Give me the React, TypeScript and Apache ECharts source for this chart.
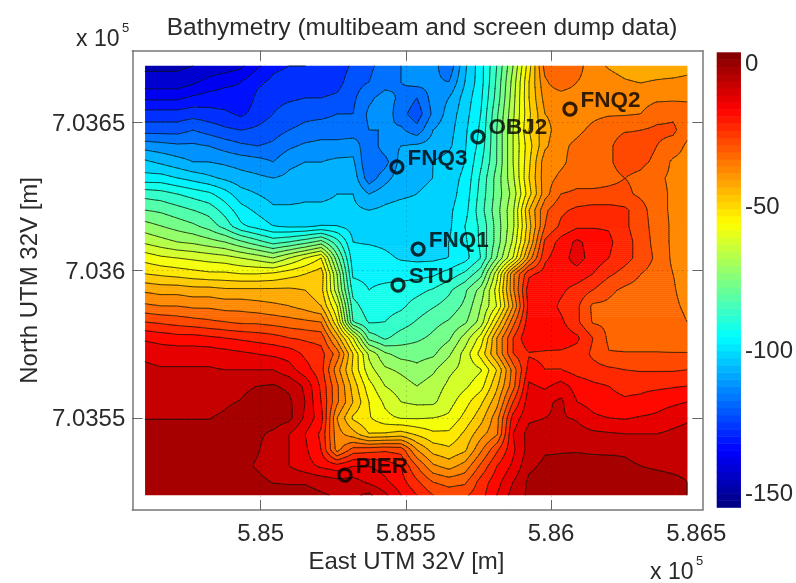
import React, { useEffect, useRef } from "react";
import * as echarts from "echarts";

const TITLE = "Bathymetry (multibeam and screen dump data)";
const FONT = "'Liberation Sans', Arial, sans-serif";
const INK = "#2a2a2a";

const eastings = [584602, 584657, 584712, 584767, 584822, 584877, 584932, 584987, 585043, 585098, 585153, 585208, 585263, 585318, 585373, 585428, 585483, 585538, 585593, 585648, 585703, 585758, 585813, 585869, 585924, 585979, 586034, 586089, 586144, 586199, 586254, 586309, 586364, 586420, 586468];
const northings = [7036692, 7036638, 7036584, 7036530, 7036475, 7036421, 7036367, 7036313, 7036259, 7036204, 7036150, 7036096, 7036042, 7035988, 7035933, 7035879, 7035825, 7035771, 7035717, 7035663, 7035608, 7035554, 7035500, 7035446, 7035392, 7035337, 7035283, 7035239];

const depths: number[][] = [
  [-146,-146,-146,-145,-144,-143,-141,-136,-131,-130,-130,-129,-128,-124,-121,-118,-115,-113,-113,-119,-106,-97,-85,-70,-52,-33,-30,-33,-38,-40.5,-42,-43,-43,-43,-42],
  [-143,-143,-143,-141,-138,-136,-135,-131,-129,-128,-128,-128,-127,-122,-120,-117,-115,-113,-114,-115,-105,-97,-84,-68,-50,-36,-31,-35,-37,-38,-39.5,-40.2,-39.5,-39,-38.5],
  [-136,-136,-136,-134,-133,-133,-134,-129,-127,-126,-125,-125,-124,-121,-116,-113,-116,-120,-113,-110,-103,-96,-83,-67,-50,-38,-38,-38,-37,-37,-37,-37,-36,-36,-36],
  [-128,-128,-128,-127,-128,-129,-131,-128,-125,-122,-121,-121,-120,-120,-114,-112,-118,-123,-114,-108,-102,-95,-81,-66,-51,-40,-38,-37,-36,-35.5,-35.5,-35,-32,-31,-32],
  [-122,-122,-122,-120,-122,-124,-125,-124,-122,-120,-119,-118,-118,-118,-115,-115,-114,-118,-110,-107,-101,-94,-80,-65,-50,-42,-37,-36,-34,-32,-30.5,-30,-29,-29,-33],
  [-112,-113,-114,-114,-115,-117,-119,-120,-119,-116,-114,-113,-113,-112,-119,-112,-110,-109,-108,-106,-100.5,-93,-80,-65,-52,-41,-36,-34,-32,-31,-27,-28,-30,-32,-36],
  [-104,-106,-108,-110,-110,-111,-112,-113,-115,-111,-110,-110,-109,-109,-120,-117,-108,-107,-105,-103,-100,-91,-80,-65,-51,-37,-36,-33,-32,-30.5,-28.5,-29,-31,-36,-37],
  [-98,-98,-100,-102,-104,-106,-108,-109,-110,-109,-108,-108,-108,-107,-118,-112,-107,-106,-105,-102,-99,-89,-78,-66,-50,-37,-34,-32,-32,-31,-30,-31,-34,-36,-38],
  [-87,-88,-90,-92,-94,-98,-103,-105,-107,-107,-106,-106,-105,-105,-110,-107,-106,-105,-104,-102,-98,-88,-78,-68,-52,-37,-30,-29,-29,-29,-29,-31,-33,-36,-38],
  [-80,-81,-83,-85,-87,-92,-98,-101,-104,-104,-104,-104,-104,-104,-105,-104,-103,-103,-102,-101,-97,-87,-77,-66,-45,-31,-26,-24,-23,-23,-24,-28,-33,-36,-38],
  [-73,-75,-77,-79,-82,-87,-94,-97,-100,-101,-101,-100,-100,-102,-102,-102,-102,-102,-102,-101,-95,-89,-78,-66,-47,-30,-24,-21,-20.5,-20.5,-24,-28,-32,-36,-38],
  [-66,-68,-70,-71,-73,-75,-79,-83,-87,-85,-82,-78,-88,-100,-100.5,-101,-102,-102,-101.5,-100,-96,-89,-78,-64,-45,-24,-18,-14,-17,-19,-23,-27,-32,-36,-38],
  [-57,-59,-60,-61,-62,-63,-65,-67,-70,-65,-60,-55,-78,-98,-97.5,-99,-100.5,-101,-101,-100,-97,-90,-75,-60,-38,-21,-17,-13,-17,-20,-23,-27,-31,-36,-38],
  [-50,-51,-52,-53,-54,-54,-55,-55,-54,-52,-50,-47,-70,-96,-96.5,-97,-97,-97,-96,-93,-89,-82,-62,-36,-21,-18,-17,-17,-20,-24,-27,-30,-32,-35,-37],
  [-41,-42,-42,-43,-43,-44,-44,-44,-44,-44,-45,-48,-68,-92,-95,-93.5,-92.5,-91.5,-89.5,-86,-81,-73,-58,-36,-17,-17,-19,-22,-25,-29,-31,-32,-33,-34.5,-37],
  [-34,-35,-35,-36,-36,-37,-37,-38,-39,-40,-42,-45,-60,-88,-93,-92,-91,-88,-85.5,-83,-79,-70,-60,-40,-18,-17,-21,-24,-31,-31,-32,-32,-33,-34,-36],
  [-25,-26,-27,-28,-29,-30,-31,-31,-32,-33,-34,-35,-54,-85,-90.5,-90,-87.5,-84.5,-81.5,-79.5,-76,-68,-50,-32,-17,-17,-19,-24,-30.5,-31,-32,-32,-32,-33,-35],
  [-16,-17,-18,-18,-19,-20,-21,-22,-23,-25,-26,-27,-42,-60,-82,-86,-82.5,-81,-79,-76,-68,-58,-40,-25,-15,-16,-17,-19,-25,-31,-32,-32,-32,-33,-33],
  [-11,-12,-12,-12,-12,-13,-14,-15,-16,-17,-21,-23,-32,-50,-66,-74,-77,-77,-76,-71,-63,-53,-40,-25,-20.5,-21,-21,-22,-26,-29.7,-29.7,-29.7,-29.7,-29.7,-29.7],
  [-9,-9.5,-9.5,-9.5,-9.5,-10,-10,-10,-10,-13,-18,-23,-38,-51,-63,-69,-71,-73.5,-71,-66,-63.5,-60.5,-50,-33,-18,-20,-20,-22,-23,-24,-25,-25.5,-25.5,-25.5,-25],
  [-8,-8,-7.5,-7.5,-7,-7,-6,-5,-4.5,-6,-11,-21,-34,-47,-58,-65,-67.5,-70,-67.5,-64,-61,-57,-46,-32,-14,-16,-13,-17,-19,-20,-21,-21,-21,-20.5,-20],
  [-7,-7,-6.5,-6.5,-6,-5.5,-4.8,-3,-2.5,-4,-10,-20,-34,-45,-55,-61,-65,-66,-66,-62,-57,-51,-42,-25,-12,-11,-9,-15,-17,-19,-19.5,-19,-17,-16,-15],
  [-5.1,-5.1,-5.1,-5.1,-5.1,-4.5,-3,-2.5,-2,-3.5,-11,-18,-40,-51,-54.5,-58.5,-60.5,-60.5,-60,-59,-53.5,-47,-37,-18,-11,-10,-9.5,-10.5,-14,-15,-15.5,-14.5,-14,-12,-11],
  [-4,-4,-4,-4,-4,-4,-4,-4,-6,-10,-15,-21,-38,-43,-50,-49.5,-48,-51,-54,-54,-49,-42,-36,-15,-8,-7.5,-7.5,-8,-9,-9.5,-10,-10,-10,-9,-8],
  [-3,-3,-3,-3,-3,-3,-3.5,-4.5,-7.5,-10,-14,-20,-37,-28,-27,-26,-27,-40,-47,-49,-46,-36,-26,-16,-8,-5.5,-5.3,-5.2,-5.4,-5.5,-5.4,-6,-6.5,-7,-7],
  [-3,-3,-3,-3,-3,-3,-3.5,-5.5,-8,-10,-13,-16,-18,-15,-15,-17,-20,-30,-39,-42,-38,-29,-20,-14,-6,-4,-4,-4,-4,-4,-4.5,-5,-5.5,-6,-6],
  [-3,-3,-3,-3,-3,-3,-3,-3.5,-5.3,-5.5,-5.4,-6.5,-8,-8,-11,-14,-18,-24,-30,-32,-31,-23,-17,-10,-4,-3,-3,-3,-3,-3,-3,-3.5,-3.5,-4,-5],
  [-2,-2,-2,-2,-2,-2,-2,-2,-2.5,-3,-3.5,-4.5,-5.5,-6,-4,-9,-15,-20,-25,-27,-26,-22,-15,-8,-4,-2,-2,-2,-2,-2,-2,-3,-3,-4,-5],
];

const stationNames = ["FNQ2", "OBJ2", "FNQ3", "FNQ1", "STU", "PIER"];
const stationEast = [586065, 585748, 585469, 585542, 585473, 585290];
const stationNorth = [7036546, 7036452, 7036350, 7036072, 7035950, 7035306];

const eastTicks = [585000, 585500, 586000];
const eastLabels = [585000, 585500, 586000, 586500];
const northTicks = [7035500, 7036000, 7036500];
const colorbarTicks = [0, -50, -100, -150];

const X_MIN = 584558, X_MAX = 586522, Y_MIN = 7035188, Y_MAX = 7036744;
const C_MIN = -155, C_MAX = 3.5;
const BAND = 5;
const FINE_E = 3.44 * 2;
const FINE_N = 3.39 * 2;

const clamp = (v: number) => Math.max(0, Math.min(1, v));
const jet = (t: number) => {
  const c = (x: number) => Math.round(255 * clamp(1.5 - Math.abs(4 * t - x)));
  return `rgb(${c(3)},${c(2)},${c(1)})`;
};
const colorOf = (v: number) => jet((v - C_MIN) / (C_MAX - C_MIN));
const bandColor = (v: number) => colorOf(Math.floor(v / BAND) * BAND + BAND / 2);

function sample(e: number, n: number) {
  let i = 0;
  while (i < eastings.length - 2 && e > eastings[i + 1]) i++;
  let j = 0;
  while (j < northings.length - 2 && n < northings[j + 1]) j++;
  const u = clamp((e - eastings[i]) / (eastings[i + 1] - eastings[i]));
  const w = clamp((northings[j] - n) / (northings[j] - northings[j + 1]));
  return (
    depths[j][i] * (1 - u) * (1 - w) + depths[j][i + 1] * u * (1 - w) +
    depths[j + 1][i] * (1 - u) * w + depths[j + 1][i + 1] * u * w
  );
}

const E0 = eastings[0], E1 = eastings[eastings.length - 1];
const N0 = northings[0], N1 = northings[northings.length - 1];
const nx = Math.round((E1 - E0) / FINE_E);
const ny = Math.round((N0 - N1) / FINE_N);
const ex = (i: number) => E0 + ((E1 - E0) * i) / nx;
const ey = (j: number) => N0 - ((N0 - N1) * j) / ny;

type Run = { e0: number; e1: number; n0: number; n1: number; color: string };
function buildRuns(): Run[][] {
  const rows: Run[][] = [];
  for (let j = 0; j < ny; j++) {
    const runs: Run[] = [];
    let start = 0;
    let band = NaN;
    for (let i = 0; i <= nx; i++) {
      const b = i < nx ? Math.floor(sample((ex(i) + ex(i + 1)) / 2, (ey(j) + ey(j + 1)) / 2) / BAND) : NaN;
      if (b !== band) {
        if (i > start && !Number.isNaN(band)) {
          runs.push({ e0: ex(start), e1: ex(i), n0: ey(j), n1: ey(j + 1), color: bandColor(band * BAND + 0.1) });
        }
        start = i;
        band = b;
      }
    }
    rows.push(runs);
  }
  return rows;
}

type Seg = [number, number, number, number];
function buildContours(): Seg[] {
  const segs: Seg[] = [];
  const grid: number[][] = [];
  for (let j = 0; j <= ny; j++) {
    const r: number[] = [];
    for (let i = 0; i <= nx; i++) r.push(sample(ex(i), ey(j)));
    grid.push(r);
  }
  for (let lev = -145; lev <= -5; lev += BAND) {
    const L = lev + 0.001;
    for (let j = 0; j < ny; j++) {
      for (let i = 0; i < nx; i++) {
        const a = grid[j][i], b = grid[j][i + 1], c = grid[j + 1][i + 1], d = grid[j + 1][i];
        const pts: [number, number][] = [];
        if (a < L !== b < L) pts.push([ex(i) + ((L - a) / (b - a)) * (ex(i + 1) - ex(i)), ey(j)]);
        if (b < L !== c < L) pts.push([ex(i + 1), ey(j) + ((L - b) / (c - b)) * (ey(j + 1) - ey(j))]);
        if (d < L !== c < L) pts.push([ex(i) + ((L - d) / (c - d)) * (ex(i + 1) - ex(i)), ey(j + 1)]);
        if (a < L !== d < L) pts.push([ex(i), ey(j) + ((L - a) / (d - a)) * (ey(j + 1) - ey(j))]);
        if (pts.length >= 2) segs.push([pts[0][0], pts[0][1], pts[1][0], pts[1][1]]);
        if (pts.length === 4) segs.push([pts[2][0], pts[2][1], pts[3][0], pts[3][1]]);
      }
    }
  }
  return segs;
}

const colorLevels: number[] = [];
for (let k = 0; k < 64; k++) colorLevels.push(C_MIN + ((C_MAX - C_MIN) * k) / 64);

export default function App() {
  const ref = useRef<HTMLDivElement>(null);
  useEffect(() => {
    const chart = echarts.init(ref.current!, undefined, { renderer: "svg" });
    const runs = buildRuns();
    const segs = buildContours();
    const axisText = { color: INK, fontFamily: FONT, fontSize: 24 };
    const frame = { show: true, onZero: false, lineStyle: { color: "#777", width: 1.5 } };
    const tick = { show: true, inside: true, length: 10, lineStyle: { color: "#666", width: 1 } };
    const dots = { show: true, lineStyle: { color: "rgba(0,0,0,0.3)", type: [1, 4], width: 1 } };
    const option: any = {
      animation: false,
      backgroundColor: "#fff",
      title: {
        text: TITLE, left: 417, top: 9, textAlign: "center",
        textStyle: { ...axisText, fontSize: 24.5, fontWeight: "normal" },
      },
      grid: [
        { left: 132.3, top: 50.7, width: 570.4, height: 459.3 },
        { left: 716.7, top: 52.3, width: 26, height: 455 },
      ],
      xAxis: [
        {
          type: "value", gridIndex: 0, min: X_MIN, max: X_MAX, position: "bottom", z: 5,
          axisLine: frame,
          axisTick: { ...tick, customValues: eastTicks },
          axisLabel: {
            ...axisText, margin: 10, showMinLabel: true, showMaxLabel: true, customValues: eastLabels,
            formatter: (v: number) => String(v / 1e5),
          },
          splitLine: dots,
          name: "East UTM 32V [m]", nameLocation: "middle", nameGap: 38,
          nameTextStyle: { ...axisText, padding: [0, 22, 0, 0] },
        },
        {
          type: "value", gridIndex: 0, min: X_MIN, max: X_MAX, position: "top", z: 5,
          axisLine: frame, axisTick: { ...tick, customValues: eastTicks },
          axisLabel: { show: false }, splitLine: { show: false },
        },
        {
          type: "value", gridIndex: 1, min: 0, max: 1, show: false,
        },
      ],
      yAxis: [
        {
          type: "value", gridIndex: 0, min: Y_MIN, max: Y_MAX, position: "left", z: 5,
          axisLine: frame,
          axisTick: { ...tick, customValues: northTicks },
          axisLabel: {
            ...axisText, margin: 7, customValues: northTicks,
            formatter: (v: number) => String(v / 1e6),
          },
          splitLine: dots,
          name: "North UTM 32V [m]", nameLocation: "middle", nameGap: 92,
          nameTextStyle: { ...axisText, padding: [0, 0, 0, 0] },
        },
        {
          type: "value", gridIndex: 0, min: Y_MIN, max: Y_MAX, position: "right", z: 5,
          axisLine: frame, axisTick: { ...tick, customValues: northTicks },
          axisLabel: { show: false }, splitLine: { show: false },
        },
        {
          type: "value", gridIndex: 1, min: C_MIN, max: C_MAX, position: "right",
          axisLine: { show: false }, axisTick: { show: false }, splitLine: { show: false },
          axisLabel: { ...axisText, margin: 4, customValues: colorbarTicks },
        },
      ],
      series: [
        {
          type: "custom", xAxisIndex: 0, yAxisIndex: 0, silent: true, z: 2, progressive: 0,
          clip: false,
          data: runs.map((_, j) => [E0, ey(j)]),
          renderItem: (params: any, api: any) => ({
            type: "group",
            children: runs[params.dataIndex].map((r) => {
              const a = api.coord([r.e0, r.n0]);
              const b = api.coord([r.e1, r.n1]);
              return {
                type: "rect",
                shape: { x: a[0], y: a[1] - 0.3, width: b[0] - a[0] + 0.4, height: b[1] - a[1] + 0.6 },
                style: { fill: r.color },
              };
            }),
          }),
        },
        {
          type: "custom", xAxisIndex: 0, yAxisIndex: 0, silent: true, z: 3, clip: false,
          data: [[E0, N0]],
          renderItem: (_: any, api: any) => {
            let d = "";
            for (const s of segs) {
              const a = api.coord([s[0], s[1]]);
              const b = api.coord([s[2], s[3]]);
              d += `M${a[0].toFixed(1)} ${a[1].toFixed(1)}L${b[0].toFixed(1)} ${b[1].toFixed(1)}`;
            }
            return {
              type: "path",
              shape: { pathData: d },
              style: { fill: "none", stroke: "rgba(10,20,10,0.7)", lineWidth: 0.9, lineCap: "round" },
            };
          },
        },
        {
          type: "scatter", xAxisIndex: 0, yAxisIndex: 0, z: 10, symbol: "circle", symbolSize: 12,
          itemStyle: { color: "rgba(0,0,0,0)", borderColor: "#000", borderWidth: 3.2 },
          label: {
            show: true, position: "right", distance: 3, offset: [0, -10], formatter: "{b}",
            color: "#000", fontFamily: FONT, fontSize: 22.5, fontWeight: "bold",
          },
          data: stationNames.map((name, i) => ({ name, value: [stationEast[i], stationNorth[i]] })),
        },
        {
          type: "custom", xAxisIndex: 2, yAxisIndex: 2, silent: true,
          data: colorLevels.map((v) => [0, v]),
          renderItem: (params: any, api: any) => {
            const v = colorLevels[params.dataIndex];
            const step = (C_MAX - C_MIN) / 64;
            const a = api.coord([0, v + step]);
            const b = api.coord([1, v]);
            return {
              type: "rect",
              shape: { x: a[0], y: a[1], width: b[0] - a[0], height: b[1] - a[1] + 0.5 },
              style: { fill: colorOf(v + step / 2) },
            };
          },
        },
      ],
      graphic: [
        { type: "text", x: 76, y: 26, style: { text: "x 10", fontSize: 23, fontFamily: FONT, fill: INK } },
        { type: "text", x: 122, y: 21, style: { text: "5", fontSize: 13, fontFamily: FONT, fill: INK } },
        { type: "text", x: 650, y: 559, style: { text: "x 10", fontSize: 23, fontFamily: FONT, fill: INK } },
        { type: "text", x: 696, y: 554, style: { text: "5", fontSize: 13, fontFamily: FONT, fill: INK } },
      ],
    };
    chart.setOption(option);
    return () => chart.dispose();
  }, []);
  return (
    <div
      ref={ref}
      style={{ position: "absolute", left: 0, top: 0, width: 796, height: 583, filter: "blur(0.7px)" }}
    />
  );
}
